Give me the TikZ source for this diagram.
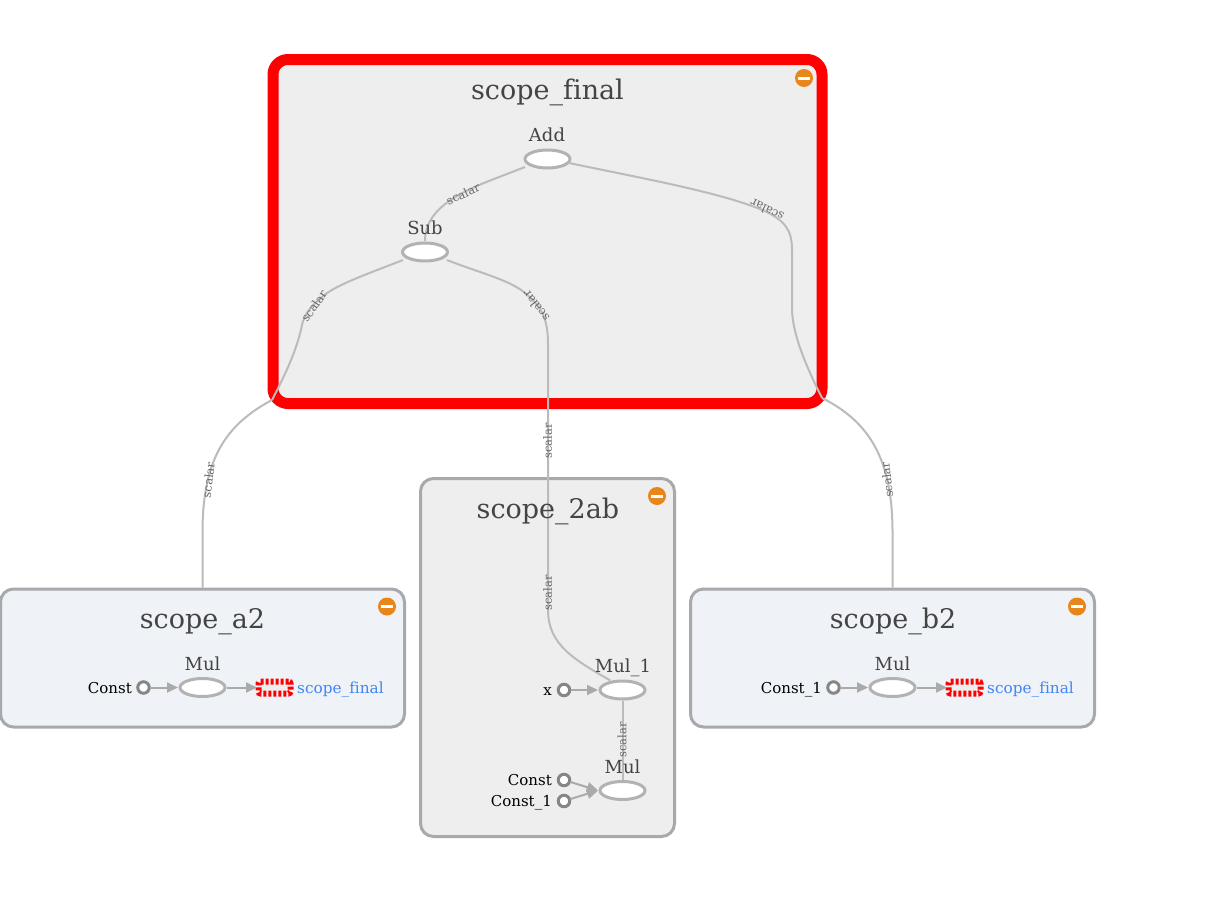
\documentclass[tikz,border=0pt]{standalone}
\usepackage{fontspec}
\setmainfont[Ligatures=NoCommon]{DejaVu Serif}
\usetikzlibrary{shapes.geometric,arrows.meta}
\definecolor{boxgray}{HTML}{EEEEEE}
\definecolor{boxblue}{HTML}{EFF2F7}
\definecolor{boxline}{HTML}{A7A9AC}
\definecolor{edgegray}{HTML}{BBBBBB}
\definecolor{opline}{HTML}{B2B2B2}
\definecolor{arrowgray}{HTML}{AAAAAA}
\definecolor{txtgray}{HTML}{444444}
\definecolor{lblgray}{HTML}{666666}
\definecolor{linkblue}{HTML}{4285F4}
\definecolor{orangeb}{HTML}{E8851B}
\begin{document}
\begin{tikzpicture}[x=1pt,y=-1pt,
  scopebox/.style={draw=boxline,line width=3pt,rounded corners=13pt},
  titletext/.style={font=\fontsize{27}{27}\selectfont,text=txtgray,inner sep=0pt,anchor=base},
  optext/.style={font=\fontsize{18}{18}\selectfont,text=txtgray,inner sep=0pt,anchor=base},
  smalltext/.style={font=\fontsize{15}{15}\selectfont,text=black,inner sep=0pt,anchor=base east},
  linktext/.style={font=\fontsize{15.3}{15}\selectfont,text=linkblue,inner sep=0pt,anchor=base west},
  opnode/.style={ellipse,draw=opline,fill=white,line width=3pt,minimum width=45pt,minimum height=18pt,inner sep=0pt,outer sep=2pt},
  constnode/.style={circle,draw=gray!95,fill=white,line width=3pt,minimum size=11.5pt,inner sep=0pt,outer sep=1pt},
  dataedge/.style={draw=edgegray,line width=2pt},
  flowedge/.style={draw=arrowgray,line width=2pt,-{Triangle[length=11pt,width=10pt]}},
  edgelabel/.style={font=\fontsize{11.5}{12}\selectfont,text=lblgray,inner sep=0pt},
  collapse/.style={circle,fill=orangeb,minimum size=18pt,inner sep=0pt},
  collapsebar/.style={fill=white,minimum width=12pt,minimum height=3pt,inner sep=0pt},
  refnode/.style={draw=red,line width=6pt,dash pattern=on 3pt off 2pt,rounded corners=2pt,fill=boxgray,minimum width=32pt,minimum height=12pt,inner sep=0pt,outer sep=1.5pt}
]
\useasboundingbox (0,0) rectangle (1215,897);
\fill[white] (0,0) rectangle (1215,897);

% scope boxes
\node[scopebox,draw=red,line width=11pt,fill=boxgray,rounded corners=15pt,minimum width=549pt,minimum height=344pt,inner sep=0pt] (final) at (547.5,231.5) {};
\node[scopebox,fill=boxgray,minimum width=254pt,minimum height=358pt,inner sep=0pt] (two) at (547.5,657.5) {};
\node[scopebox,fill=boxblue,minimum width=404pt,minimum height=138pt,inner sep=0pt] (atwo) at (202.5,658) {};
\node[scopebox,fill=boxblue,minimum width=404pt,minimum height=138pt,inner sep=0pt] (btwo) at (892.5,658) {};

% collapse buttons
\foreach \nm/\px/\py in {cf/804/78,ct/657/496,ca/387/606.5,cb/1077/606.5}{
  \node[collapse] (\nm) at (\px,\py) {};
  \node[collapsebar] at (\nm) {};
}

% operation nodes
\node[opnode] (add) at (547.5,159) {};
\node[opnode] (sub) at (425,252) {};
\node[opnode] (mula) at (202.5,687.5) {};
\node[opnode] (mulb) at (892.5,687.5) {};
\node[opnode] (mulone) at (622.5,690) {};
\node[opnode] (multwo) at (622.5,790.5) {};

% constants
\node[constnode] (ca2) at (143.5,687.5) {};
\node[constnode] (cb2) at (833.5,687.5) {};
\node[constnode] (xx) at (564,690) {};
\node[constnode] (c0) at (564,780) {};
\node[constnode] (c1) at (564,801) {};

% reference nodes
\node[refnode] (refa) at (274.5,687.5) {};
\node[refnode] (refb) at (964.5,687.5) {};

% way points
\coordinate (lw) at (272,400);
\coordinate (mw) at (548,403);
\coordinate (rw) at (822,398);

% data edges
\draw[dataedge] ([xshift=-22.5pt,yshift=-8pt]add.center) .. controls (480,185) and (425,200) .. (sub.north);
\draw[dataedge] ([xshift=21.5pt,yshift=-4pt]add.center) .. controls (640,178) and (720,192) .. (765,211) .. controls (785,221) and (792,230) .. (792,250) -- (792,308) .. controls (792,335) and (808,370) .. (rw);
\draw[dataedge] (rw) .. controls (870,422) and (892,460) .. (892.5,530) -- (btwo.north);
\draw[dataedge] ([xshift=-22pt,yshift=-8pt]sub.center) .. controls (370,273) and (335,285) .. (322,297) .. controls (310,307) and (304,315) .. (302,325) .. controls (297,350) and (285,375) .. (lw);
\draw[dataedge] (lw) .. controls (225,425) and (203,460) .. (202.5,530) -- (atwo.north);
\draw[dataedge] ([xshift=22pt,yshift=-8pt]sub.center) .. controls (480,273) and (510,280) .. (525,293) .. controls (543,308) and (548,320) .. (548,345) -- (mw);
\draw[dataedge] (mw) -- (548,610) .. controls (548,645) and (575,660) .. (mulone.142);
\draw[dataedge] (mulone.south) -- (multwo.north);

% flow edges
\draw[flowedge] (ca2) -- (mula.west);
\draw[flowedge] (mula.east) -- (refa.west);
\draw[flowedge] (cb2) -- (mulb.west);
\draw[flowedge] (mulb.east) -- (refb.west);
\draw[flowedge] (xx) -- (mulone.west);
\draw[flowedge] (c0) -- (multwo.west);
\draw[flowedge] (c1) -- (multwo.west);

% edge labels
\node[edgelabel,rotate=24] (e1) at (463,194) {scalar};
\node[edgelabel,rotate=155] (e2) at (767,210) {scalar};
\node[edgelabel,rotate=55] (e3) at (314,306) {scalar};
\node[edgelabel,rotate=128] (e4) at (536,306) {scalar};
\node[edgelabel,rotate=83] (e5) at (208.5,480) {scalar};
\node[edgelabel,rotate=90] (e6) at (547.5,441) {scalar};
\node[edgelabel,rotate=97] (e7) at (887,480) {scalar};
\node[edgelabel,rotate=90] (e8) at (547.5,593) {scalar};
\node[edgelabel,rotate=90] (e9) at (622,740) {scalar};

% titles
\node[titletext] (tf) at (547.5,99) {scope\_final};
\node[titletext] (tt) at (548,518) {scope\_2ab};
\node[titletext] (ta) at (202.5,628) {scope\_a2};
\node[titletext] (tb) at (893,628) {scope\_b2};

% operation labels
\node[optext] (ladd) at (547,141) {Add};
\node[optext] (lsub) at (425,234) {Sub};
\node[optext] (lma) at (202.5,670) {Mul};
\node[optext] (lmb) at (892.5,670) {Mul};
\node[optext] (lm1) at (623,672) {Mul\_1};
\node[optext] (lm2) at (622.5,773) {Mul};

% small labels
\node[smalltext] (l1) at (132,693) {Const};
\node[smalltext] (l2) at (822,693) {Const\_1};
\node[smalltext] (l3) at (552,695) {x};
\node[smalltext] (l4) at (552,785) {Const};
\node[smalltext] (l5) at (552,806) {Const\_1};
\node[linktext] (l6) at (297,693) {scope\_final};
\node[linktext] (l7) at (987,693) {scope\_final};
\end{tikzpicture}
\end{document}
